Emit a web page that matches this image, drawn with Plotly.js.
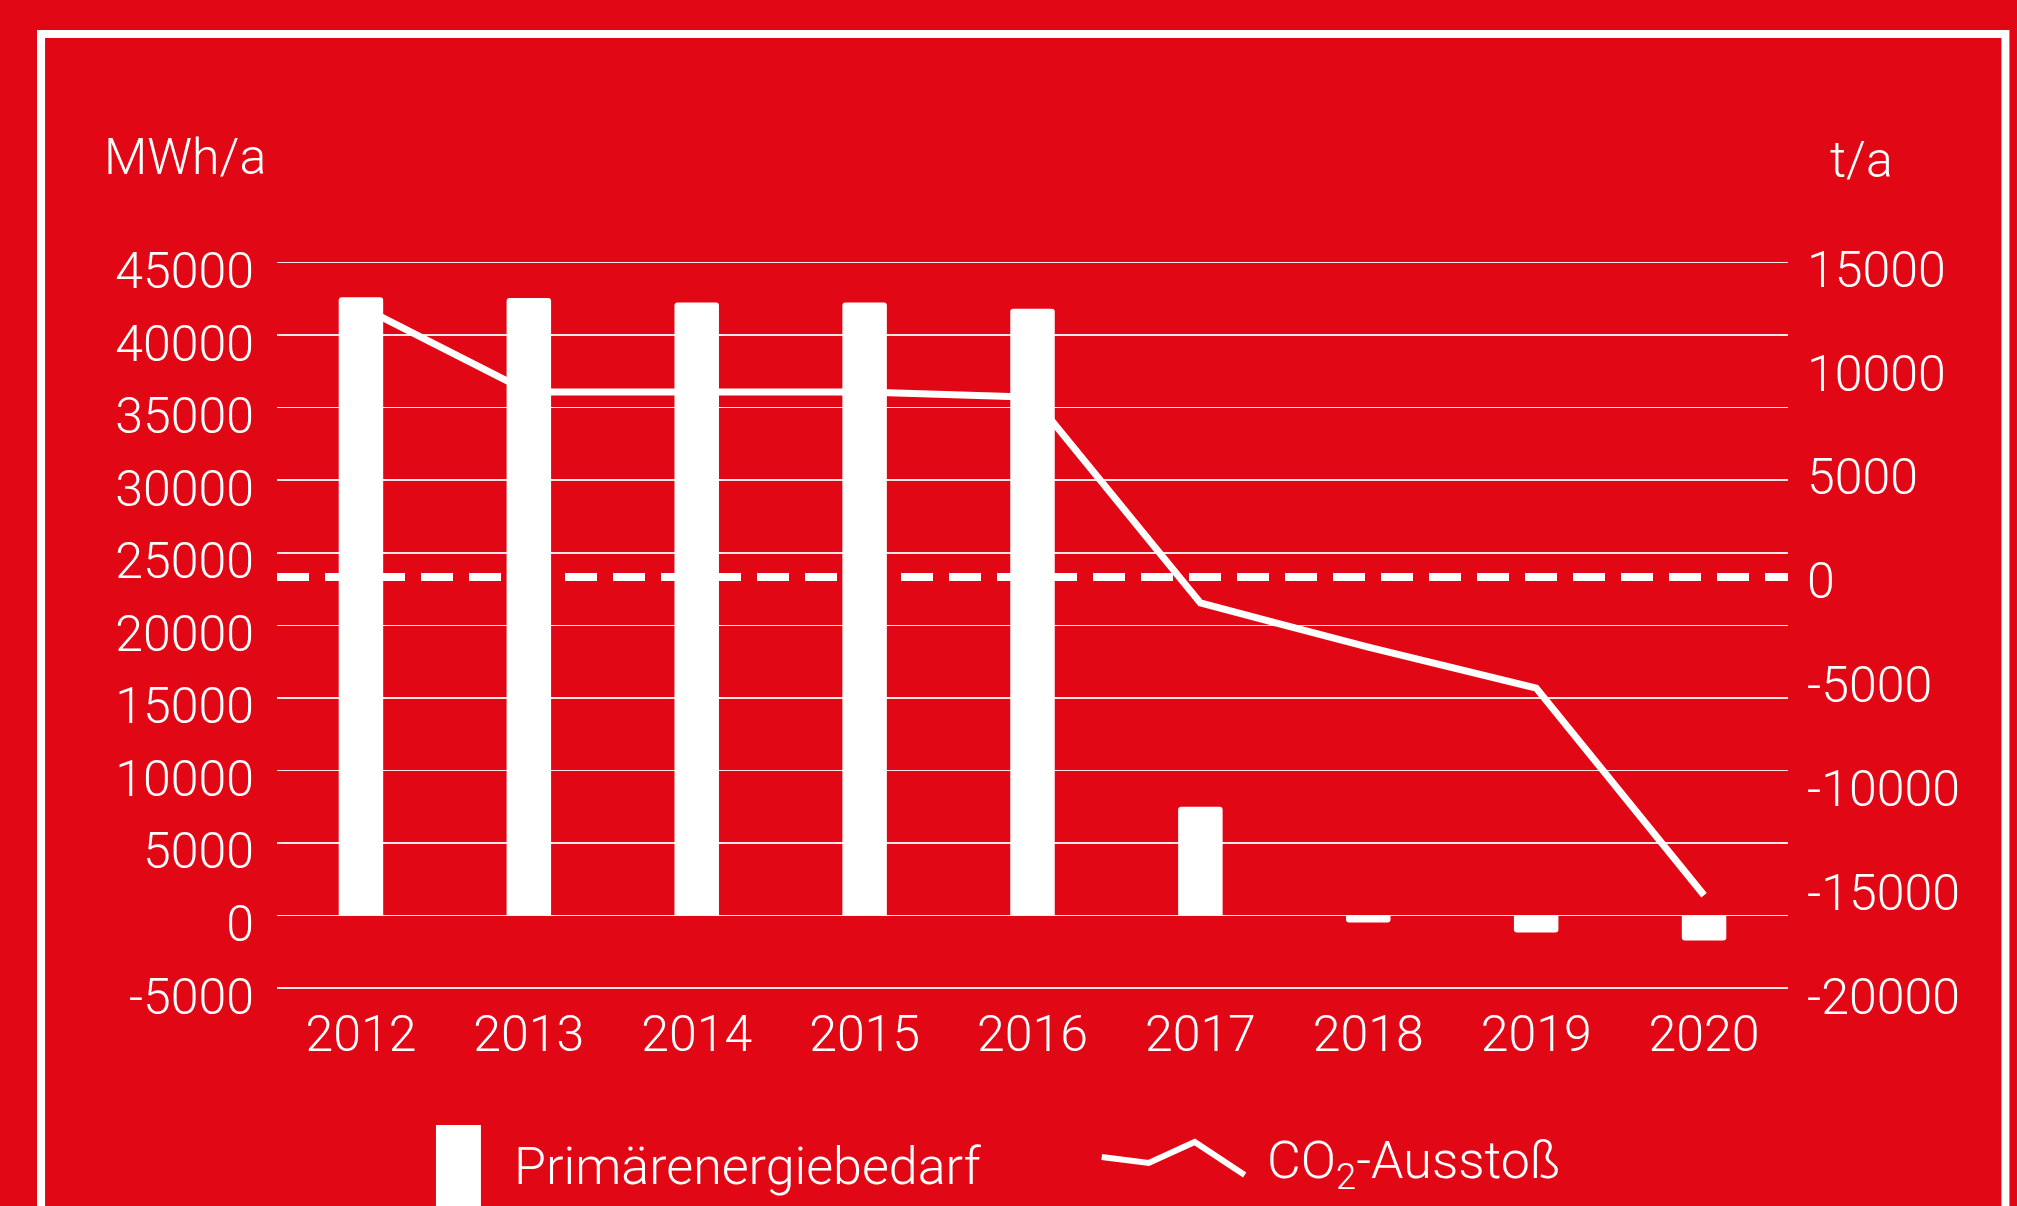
<!DOCTYPE html>
<html>
<head>
<meta charset="utf-8">
<script src="https://cdn.plot.ly/plotly-3.0.1.min.js"></script>
<style>
html,body{margin:0;padding:0;background:#E20714;overflow:hidden;}
#chart{width:2017px;height:1206px;}
</style>
</head>
<body>
<div id="chart"></div>
<script>
// ---- data ----
const years = ['2012','2013','2014','2015','2016','2017','2018','2019','2020'];
const primaryEnergy = [42600, 42550, 42250, 42250, 41820, 7500, -480, -1180, -1720]; // MWh/a
const co2Emission = [13000, 8900, 8900, 8900, 8650, -1250, -3370, -5340, -15300];     // t/a
const leftTicks = [-5000, 0, 5000, 10000, 15000, 20000, 25000, 30000, 35000, 40000, 45000];
const rightTicks = [-20000, -15000, -10000, -5000, 0, 5000, 10000, 15000];
const leftUnit = 'MWh/a';
const rightUnit = 't/a';
const seriesNames = ['Primärenergiebedarf', 'CO<sub>2</sub>-Ausstoß'];

// ---- layout geometry (pixels) ----
const W = 2017, H = 1206;
const PL = 277, PR = 1788.5, PT = 250, PB = 1000;
const px2x = px => (px - PL) / (PR - PL);
const px2y = py => (PB - py) / (PB - PT);

const RED = '#E20714';
const WHITE = '#FFFFFF';
const FONT = 'Roboto, "Liberation Sans", Arial, sans-serif';

const traces = [
  {
    type: 'bar',
    name: seriesNames[0],
    x: years,
    y: primaryEnergy,
    width: 0.265,
    marker: {color: WHITE, line: {width: 0}, cornerradius: 3},
    yaxis: 'y',
    hoverinfo: 'skip'
  },
  {
    type: 'scatter',
    mode: 'lines',
    name: seriesNames[1],
    x: years,
    y: co2Emission,
    line: {color: WHITE, width: 7},
    yaxis: 'y2',
    hoverinfo: 'skip'
  }
];

const tickFont = {family: FONT, size: 50, color: WHITE, weight: 300};
const legendFont = {family: FONT, size: 52, color: WHITE, weight: 300};

const layout = {
  width: W, height: H,
  paper_bgcolor: RED,
  plot_bgcolor: RED,
  showlegend: false,
  margin: {l: PL, r: W - PR, t: PT, b: H - PB, pad: 0},
  font: {family: FONT, color: WHITE},
  xaxis: {
    type: 'category',
    range: [-0.5, 8.5],
    showgrid: false, zeroline: false, showline: false,
    ticks: '', tickfont: tickFont,
    ticklabelstandoff: 0,
    fixedrange: true
  },
  yaxis: {
    range: [-5824, 45865],
    tickvals: leftTicks,
    ticktext: leftTicks.map(String),
    showgrid: true,
    gridcolor: 'rgba(255,255,255,0.9)',
    gridwidth: 1.5,
    zeroline: false, showline: false,
    ticks: '', tickfont: tickFont,
    ticklabelstandoff: 22,
    ticklabelshift: 8,
    fixedrange: true
  },
  yaxis2: {
    overlaying: 'y', side: 'right',
    range: [-20337, 15721],
    tickvals: rightTicks,
    ticktext: rightTicks.map(String),
    showgrid: false, zeroline: false, showline: false,
    ticks: '', tickfont: tickFont,
    ticklabelstandoff: 18,
    ticklabelshift: 4,
    fixedrange: true
  },
  shapes: [
    // zero reference line of CO2 axis
    {type: 'line', xref: 'paper', x0: 0, x1: 1, yref: 'y2', y0: 0, y1: 0,
     line: {color: WHITE, width: 8, dash: '32px,16px'}},
    // outer frame
    {type: 'rect', xref: 'paper', yref: 'paper',
     x0: px2x(41), x1: px2x(2006), y0: px2y(34), y1: px2y(1260),
     line: {color: WHITE, width: 8}, fillcolor: 'rgba(0,0,0,0)'},
    // legend icon: bar
    {type: 'rect', xref: 'paper', yref: 'paper',
     x0: px2x(436), x1: px2x(481), y0: px2y(1125), y1: px2y(1240),
     line: {width: 0}, fillcolor: WHITE},
    // legend icon: zigzag line
    {type: 'path', xref: 'paper', yref: 'paper',
     path: 'M ' + px2x(1102) + ' ' + px2y(1157) + ' L ' + px2x(1149) + ' ' + px2y(1163) +
           ' L ' + px2x(1195) + ' ' + px2y(1142) + ' L ' + px2x(1245) + ' ' + px2y(1175),
     line: {color: WHITE, width: 6}}
  ],
  annotations: [
    {text: leftUnit, xref: 'paper', yref: 'paper', x: px2x(185), y: px2y(157),
     xanchor: 'center', yanchor: 'middle', showarrow: false, font: tickFont},
    {text: rightUnit, xref: 'paper', yref: 'paper', x: px2x(1862), y: px2y(160),
     xanchor: 'center', yanchor: 'middle', showarrow: false, font: tickFont},
    {text: seriesNames[0], xref: 'paper', yref: 'paper', x: px2x(512), y: px2y(1166),
     xanchor: 'left', yanchor: 'middle', showarrow: false, font: legendFont},
    {text: seriesNames[1], xref: 'paper', yref: 'paper', x: px2x(1265), y: px2y(1164),
     xanchor: 'left', yanchor: 'middle', showarrow: false, font: legendFont}
  ]
};

Plotly.newPlot('chart', traces, layout, {displayModeBar: false, staticPlot: true});
</script>
</body>
</html>
